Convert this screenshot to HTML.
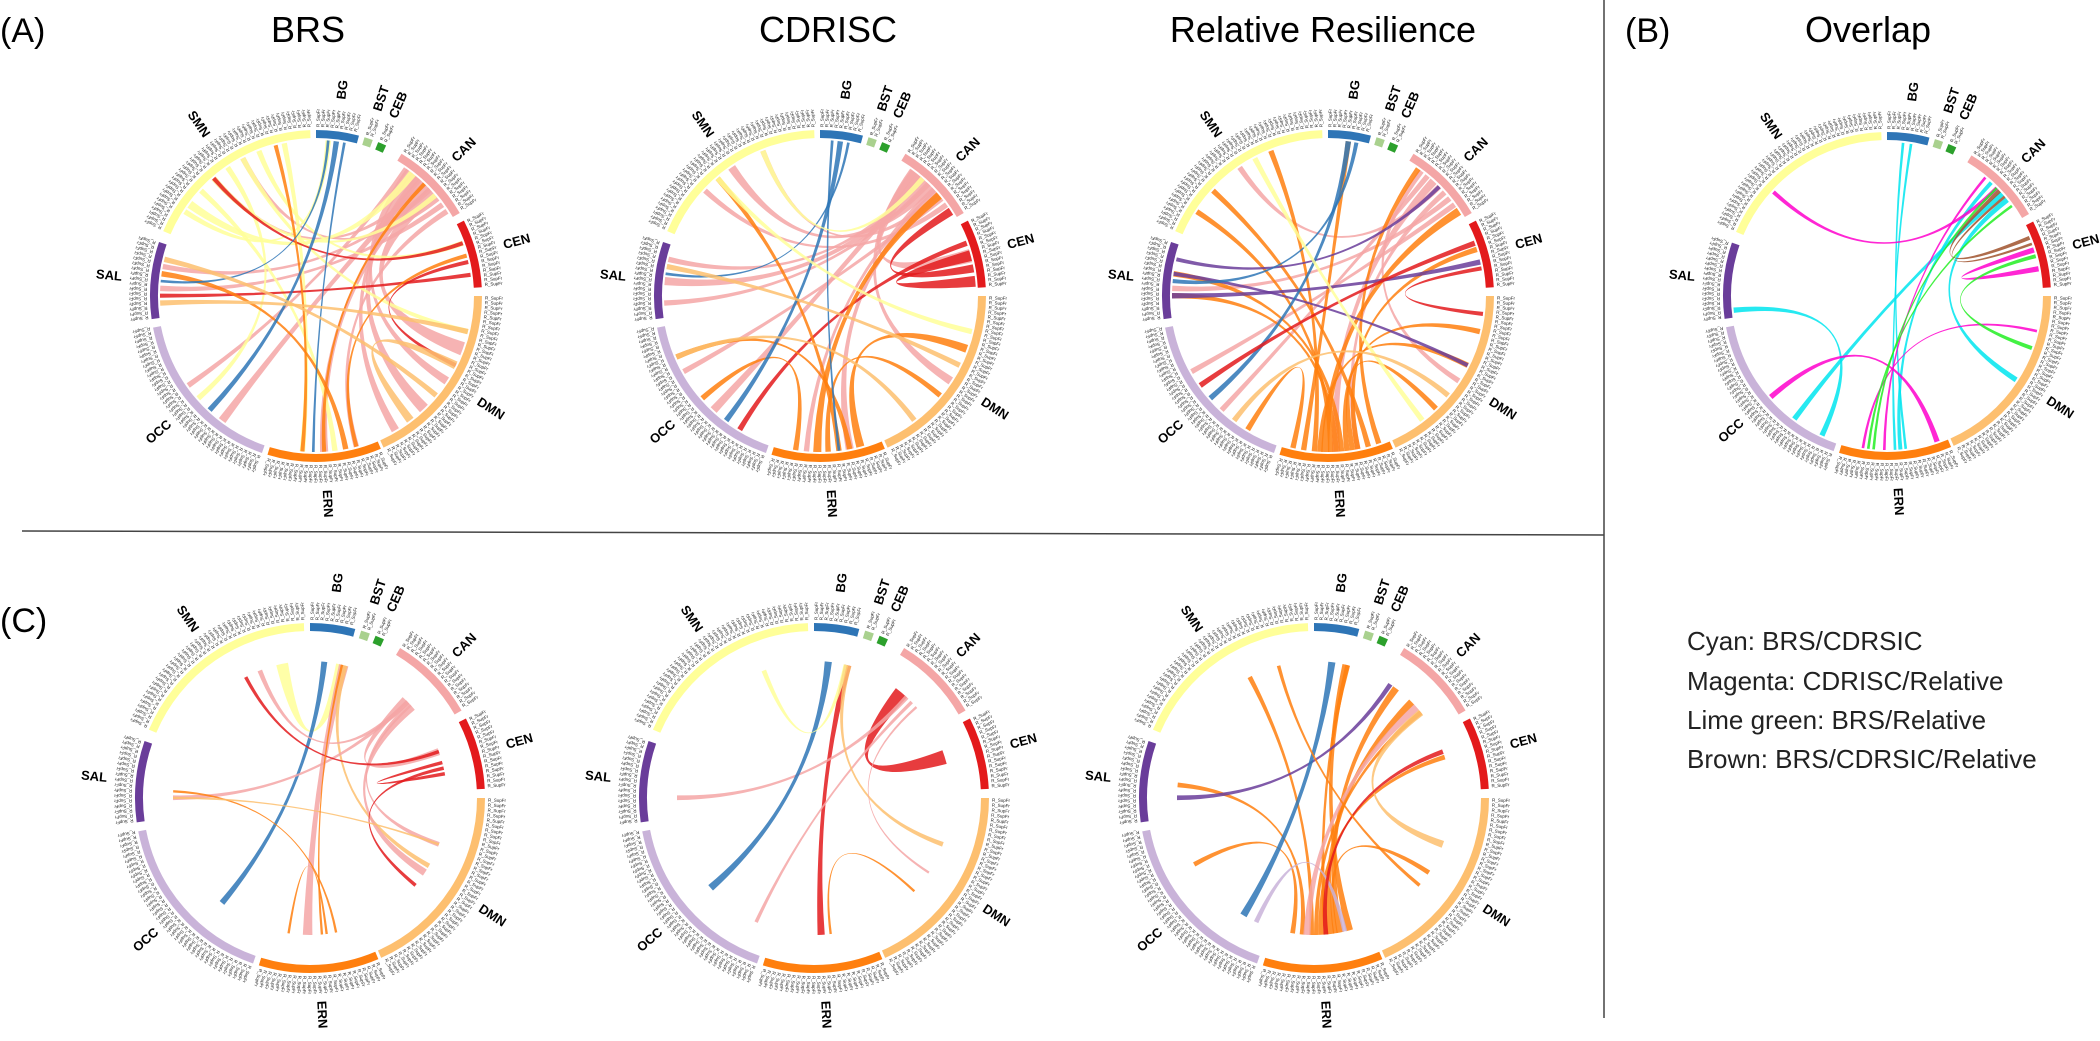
<!DOCTYPE html>
<html><head><meta charset="utf-8"><style>
html,body{margin:0;padding:0;background:#fff;}
svg{display:block;font-family:"Liberation Sans",sans-serif;}
</style></head><body>
<svg id="fig" width="2100" height="1041" viewBox="0 0 2100 1041">
<line x1="1604" y1="0" x2="1604" y2="1018" stroke="#444" stroke-width="1.5"/>
<line x1="22" y1="531" x2="1604" y2="535" stroke="#444" stroke-width="1.5"/>
<text x="0" y="42" font-size="34">(A)</text>
<text x="1625" y="42" font-size="34">(B)</text>
<text x="0" y="632" font-size="34">(C)</text>
<text x="308" y="42" font-size="36" text-anchor="middle">BRS</text>
<text x="828" y="42" font-size="36" text-anchor="middle">CDRISC</text>
<text x="1323" y="42" font-size="36" text-anchor="middle">Relative Resilience</text>
<text x="1868" y="42" font-size="36" text-anchor="middle">Overlap</text>
<g font-size="26" fill="#222">
<text x="1687" y="650">Cyan: BRS/CDRSIC</text>
<text x="1687" y="690">Magenta: CDRISC/Relative</text>
<text x="1687" y="729">Lime green: BRS/Relative</text>
<text x="1687" y="768">Brown: BRS/CDRSIC/Relative</text>
</g>
</svg>
<script>
const segNames=["BG","BST","CEB","CAN","CEN","DMN","ERN","OCC","SAL","SMN"];
const segStart=[0,17,22,31,63,90,157,199,262,293];
const segEnd=[15,20,25,60,87,156,197,259,289,358];
const segColors=["#2e75b6","#a9d18e","#2ca02c","#f4a6a6","#e31a1c","#fdbf6f","#ff7f0e","#c9b3d9","#6a3d9a","#ffff99"];
const extra={cy:"#00e5ee",mg:"#ff00cc",lg:"#22ee22",br:"#a0522d"};
// links: [segA, fracA, segB, fracB, widthDeg, colorKey]
const linksBRS=[[3,.2,5,.5,3,3],[3,.3,5,.7,4,3],[3,.4,7,.3,3,3],[3,.5,6,.5,3,3],[3,.6,5,.3,5,3],[3,.7,9,.6,2,3],[3,.8,8,.4,2,3],[3,.15,7,.6,2,3],[3,.35,5,.9,3,3],[3,.9,6,.2,2,3],[3,.45,9,.4,2,3],[3,.55,8,.7,2,3],[9,.3,6,.4,2,9],[9,.5,7,.5,2,9],[9,.7,4,.3,2,9],[9,.2,3,.25,3,9],[9,.85,6,.7,2,9],[9,.4,3,.65,2,9],[9,.6,5,.2,2,9],[9,.15,0,.3,2,9],[4,.3,9,.4,1.5,4],[4,.6,5,.4,1.5,4],[4,.8,8,.3,1.5,4],[6,.3,8,.6,2,6],[6,.5,3,.45,1.5,6],[6,.7,9,.8,1.5,6],[6,.2,4,.5,1.5,6],[0,.5,7,.4,2,0],[0,.7,6,.6,1,0],[0,.3,8,.5,1,0],[5,.2,8,.2,2,5],[5,.6,8,.8,2,5],[5,.4,5,.8,3,5]];
const linksCD=[[3,.2,5,.5,3,3],[3,.3,7,.4,3,3],[3,.4,8,.5,3,3],[3,.5,9,.5,3,3],[3,.6,6,.3,3,3],[3,.7,7,.7,2,3],[3,.8,9,.3,2,3],[3,.25,4,.5,5,3],[3,.45,8,.2,2,3],[3,.55,6,.7,2,3],[3,.35,8,.8,2,3],[3,.65,9,.7,2,3],[4,.3,7,.2,2,4],[4,.5,4,.9,4,4],[4,.7,3,.9,3,4],[6,.2,5,.3,3,6],[6,.4,9,.4,2,6],[6,.6,3,.65,3,6],[6,.8,7,.5,2,6],[6,.5,5,.6,2,6],[6,.3,7,.8,2,6],[0,.5,7,.3,2,0],[0,.7,8,.6,1,0],[0,.3,6,.4,1,0],[9,.4,5,.2,2,9],[9,.7,3,.35,2,9],[5,.4,8,.7,2,5],[5,.8,7,.8,2,5]];
const linksRR=[[3,.2,5,.5,2,3],[3,.3,7,.4,2,3],[3,.4,6,.5,3,3],[3,.5,9,.5,2,3],[3,.6,6,.3,2,3],[3,.7,8,.4,2,3],[3,.8,7,.7,2,3],[6,.1,3,.15,2,6],[6,.2,9,.3,2,6],[6,.3,4,.4,2,6],[6,.4,5,.2,2,6],[6,.5,8,.3,2,6],[6,.6,3,.9,3,6],[6,.7,9,.7,2,6],[6,.8,0,.5,2,6],[6,.9,7,.2,2,6],[6,.35,5,.7,2,6],[6,.55,9,.15,2,6],[6,.45,8,.6,2,6],[6,.65,5,.4,2,6],[8,.3,4,.6,2,8],[8,.6,5,.4,1.5,8],[8,.8,3,.5,1.5,8],[0,.5,7,.5,2,0],[0,.7,8,.5,1.5,0],[4,.3,7,.6,2,4],[4,.7,5,.1,1.5,4],[9,.6,5,.8,2,9],[7,.3,5,.6,2,5]];
const linksOV=[[0,.6,6,.5,1,"cy"],[0,.4,6,.4,1,"cy"],[3,.6,7,.3,2,"cy"],[3,.7,5,.5,2,"cy"],[3,.4,6,.45,1.5,"cy"],[8,.1,7,.1,2,"cy"],[9,.3,3,.5,1.5,"mg"],[4,.4,4,.7,2,"mg"],[7,.5,6,.1,2,"mg"],[3,.3,6,.6,1,"mg"],[5,.2,6,.8,1,"mg"],[3,.5,6,.7,1,"lg"],[4,.5,5,.3,1.5,"lg"],[3,.8,6,.75,1,"lg"],[3,.55,4,.2,1.5,"br"],[3,.65,4,.3,1,"br"]];
const linksC1=[[9,.85,0,.9,5,9],[0,.4,7,.35,2.5,0],[0,.95,6,.6,4,3],[0,.99,5,.45,2,5],[3,.5,9,.7,2,3],[3,.5,8,.3,2,3],[3,.55,5,.3,2,3],[3,.6,5,.5,3,3],[3,.45,4,.3,3,3],[4,.3,9,.6,1.5,4],[4,.5,4,.7,1.5,4],[4,.6,5,.6,1.5,4],[6,.3,8,.4,1,6],[6,.4,6,.8,1,6],[5,.3,8,.3,1,5],[0,.9,6,.45,1,6]];
const linksC2=[[3,.3,4,.4,6,4],[0,.95,6,.5,3,4],[3,.4,8,.3,2,3],[3,.5,7,.1,1.5,3],[0,.4,7,.5,3,0],[9,.7,0,.9,2,9],[5,.3,0,.99,2,5],[6,.4,5,.65,1,6],[3,.6,5,.5,1,3]];
const linksC3=[[6,.2,0,.9,3,6],[6,.3,3,.2,3,6],[6,.4,3,.5,3,6],[6,.5,4,.4,2,6],[6,.6,9,.6,2,6],[6,.7,8,.5,2,6],[6,.8,7,.7,2,6],[6,.35,5,.5,2,6],[6,.45,0,.95,2,6],[6,.55,3,.7,2,6],[8,.3,3,.1,2,8],[0,.5,7,.2,3,0],[5,.3,3,.7,3,5],[7,.1,6,.25,2,7],[3,.6,6,.65,3,3],[4,.3,6,.45,2,4],[9,.8,5,.6,1.5,6]];
const panels=[
 {name:"brs",cx:316,cy:296,r:162,inset:0,links:linksBRS},
 {name:"cdrisc",cx:820,cy:296,r:162,inset:0,links:linksCD},
 {name:"relative",cx:1328,cy:296,r:162,inset:0,links:linksRR},
 {name:"overlap",cx:1887,cy:296,r:160,inset:0,links:linksOV},
 {name:"c-brs",cx:310,cy:798,r:171,inset:28,links:linksC1},
 {name:"c-cdrisc",cx:814,cy:798,r:171,inset:28,links:linksC2},
 {name:"c-relative",cx:1314,cy:798,r:171,inset:28,links:linksC3}];
const NS="http://www.w3.org/2000/svg";
const svg=document.getElementById("fig");
function pt(cx,cy,r,deg){const a=(deg-90)*Math.PI/180;return [cx+r*Math.cos(a),cy+r*Math.sin(a)];}
function ang(s,f){return segStart[s]+f*(segEnd[s]-segStart[s]);}
panels.forEach(p=>{
 const g=document.createElementNS(NS,"g");
 
 
 svg.appendChild(g);
 const band=8, rin=p.r-band/2-2-p.inset;
 p.links.forEach(l=>{
  const a=ang(l[0],l[1]),b=ang(l[2],l[3]),w=l[4];
  const a1=pt(p.cx,p.cy,rin,a-w/2),a2=pt(p.cx,p.cy,rin,a+w/2),b1=pt(p.cx,p.cy,rin,b-w/2),b2=pt(p.cx,p.cy,rin,b+w/2);
  const col=typeof l[5]==="string"?extra[l[5]]:segColors[l[5]];
  const path=document.createElementNS(NS,"path");
  path.setAttribute("d",`M${a1}A${rin},${rin} 0 0 1 ${a2}Q${p.cx},${p.cy} ${b1}A${rin},${rin} 0 0 1 ${b2}Q${p.cx},${p.cy} ${a1}Z`);
  path.setAttribute("fill",col);path.setAttribute("fill-opacity","0.85");
  
  
  g.appendChild(path);
 });
 segNames.forEach((n,i)=>{
  const s=pt(p.cx,p.cy,p.r,segStart[i]),e=pt(p.cx,p.cy,p.r,segEnd[i]);
  const arc=document.createElementNS(NS,"path");
  arc.setAttribute("d",`M${s}A${p.r},${p.r} 0 0 1 ${e}`);
  arc.setAttribute("fill","none");arc.setAttribute("stroke",segColors[i]);arc.setAttribute("stroke-width",band);
  
  
  g.appendChild(arc);
  for(let d=segStart[i]+0.8;d<segEnd[i];d+=1.6){
   const q=pt(p.cx,p.cy,p.r+band/2+3,d);
   const t=document.createElementNS(NS,"text");
   t.setAttribute("x",q[0]);t.setAttribute("y",q[1]);
   t.setAttribute("font-size","4.5");t.setAttribute("fill","#222");
   t.setAttribute("transform",`rotate(${d-90} ${q[0]} ${q[1]})`);
   t.setAttribute("dominant-baseline","middle");
   t.textContent="R_SupFr";
   
   
   g.appendChild(t);
  }
  const mid=(segStart[i]+segEnd[i])/2;
  const lp=pt(p.cx,p.cy,p.r+46,mid);
  const lt=document.createElementNS(NS,"text");
  lt.setAttribute("x",lp[0]);lt.setAttribute("y",lp[1]);
  lt.setAttribute("font-size","13");lt.setAttribute("font-weight","bold");
  lt.setAttribute("text-anchor","middle");lt.setAttribute("dominant-baseline","middle");
  const rot=mid<=180?mid-90:mid-270;
  lt.setAttribute("transform",`rotate(${rot} ${lp[0]} ${lp[1]})`);
  lt.textContent=n;
  
  
  g.appendChild(lt);
 });
});
</script>
</body></html>
